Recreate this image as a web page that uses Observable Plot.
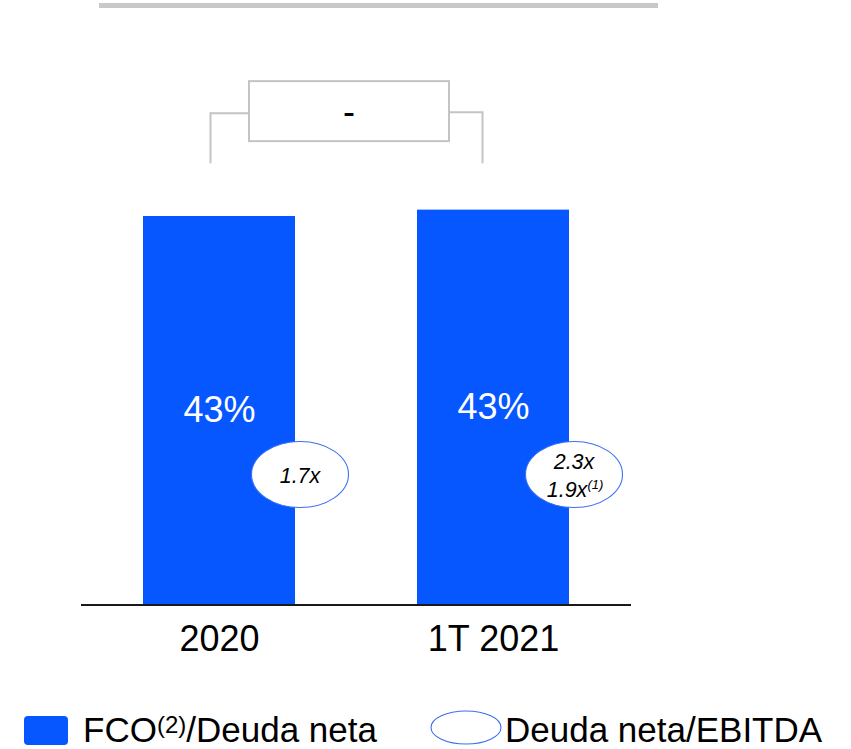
<!DOCTYPE html>
<html>
<head>
<meta charset="utf-8">
<script src="https://cdn.jsdelivr.net/npm/d3@7"></script>
<script src="https://cdn.jsdelivr.net/npm/@observablehq/plot@0.6"></script>
<style>
  html, body { margin: 0; padding: 0; background: #fff; }
  #chart { width: 851px; font-family: "Liberation Sans", Arial, sans-serif; }
  #chart svg { display: block; }
</style>
</head>
<body>
<div id="chart"></div>
<script>
// ---- data ----
const categories = ["2020", "1T 2021"];
const fcoValues = [42.7, 43.4];          // FCO/Deuda neta (%), bar heights
const fcoLabels = ["43%", "43%"];
const ratioLine1 = ["1.7x", "2.3x"];     // Deuda neta/EBITDA
const ratioLine2 = ["", "1.9x"];
const ratioLine2Note = ["", "(1)"];
const changeLabel = "-";
const legendLabels = ["FCO", "(2)", "/Deuda neta", "Deuda neta/EBITDA"];

const BLUE = "#0657ff";
const GRAY = "#c4c4c4";
const FONT = "'Liberation Sans', Arial, sans-serif";

const data = categories.map((c, i) => ({cat: c, value: fcoValues[i], label: fcoLabels[i]}));

const plot = Plot.plot({
  width: 851,
  height: 700,
  marginLeft: 81,
  marginRight: 220,
  marginTop: 58.6,
  marginBottom: 95.5,
  style: {fontFamily: FONT, color: "#000", background: "#fff"},
  x: {domain: categories, paddingInner: 0.4436, paddingOuter: 0.2236, label: null},
  y: {domain: [0, 60], axis: null},
  marks: [
    Plot.barY(data, {x: "cat", y: "value", fill: BLUE}),
    Plot.ruleY([0], {stroke: "#1a1a1a", strokeWidth: 2}),
    Plot.text(data, {x: "cat", y: d => d.value / 2, text: "label", fill: "white", fontSize: 36}),
    Plot.axisX({tickSize: 0, tickPadding: 20, fontSize: 36, fill: "#000", label: null})
  ]
});

document.getElementById("chart").appendChild(plot);

// ---- annotations positioned from the plot's scales ----
const xs = plot.scale("x");
const ys = plot.scale("y");
const bw = xs.bandwidth;
const cx = c => xs.apply(c) + bw / 2;
const yv = v => ys.apply(v);
const svg = d3.select(plot);

// top gray rule (decoration)
svg.append("rect").attr("x", 99).attr("y", 3).attr("width", 559).attr("height", 5).attr("fill", "#c8c8c8");

// change bracket
const c1 = cx(categories[0]), c2 = cx(categories[1]);
const yTop = yv(d3.max(fcoValues));
const mid = (c1 + c2) / 2 - 7;
const g = svg.append("g").attr("fill", "none").attr("stroke", GRAY).attr("stroke-width", 2);
g.append("path").attr("d", `M${c1 - 8.5},${yTop - 46.5}V${yTop - 96.5}H${mid - 100}`);
g.append("path").attr("d", `M${c2 - 10.5},${yTop - 46.5}V${yTop - 97.5}H${mid + 100}`);
g.append("rect").attr("x", mid - 100).attr("y", yTop - 128.5).attr("width", 200).attr("height", 60).attr("fill", "#fff");
svg.append("text").attr("x", mid).attr("y", yTop - 85.5).attr("text-anchor", "middle")
  .attr("font-size", 36).attr("font-family", FONT).attr("fill", "#000").text(changeLabel);

// ratio ellipses
categories.forEach((c, i) => {
  const ex = cx(c) + bw / 2 + 5;
  const ey = yv(0) - 130;
  svg.append("ellipse").attr("cx", ex).attr("cy", ey).attr("rx", 48.5).attr("ry", 33)
    .attr("fill", "#fff").attr("stroke", "#3d6ff2").attr("stroke-width", 1.1);
  const t = svg.append("g").attr("font-family", FONT).attr("font-style", "italic").attr("fill", "#000")
    .attr("text-anchor", "middle").attr("font-size", 21.5);
  if (ratioLine2[i]) {
    t.append("text").attr("x", ex).attr("y", ey - 5.5).text(ratioLine1[i]);
    const l2 = t.append("text").attr("x", ex + 1).attr("y", ey + 22.5);
    l2.append("tspan").text(ratioLine2[i]);
    l2.append("tspan").attr("font-size", 13).attr("dy", -8).text(ratioLine2Note[i]);
  } else {
    t.append("text").attr("x", ex).attr("y", ey + 8.5).text(ratioLine1[i]);
  }
});

// ---- legend (below the plot) ----
const leg = d3.select("#chart").append("svg").attr("width", 851).attr("height", 49)
  .attr("font-family", FONT).style("display", "block");
leg.append("rect").attr("x", 24).attr("y", 16).attr("width", 44).attr("height", 29).attr("rx", 4).attr("fill", BLUE);
const lt = leg.append("text").attr("x", 83).attr("y", 41.5).attr("font-size", 35).attr("fill", "#000");
lt.append("tspan").text(legendLabels[0]);
lt.append("tspan").attr("font-size", 24).attr("dy", -9).text(legendLabels[1]);
lt.append("tspan").attr("dy", 9).text(legendLabels[2]);
leg.append("ellipse").attr("cx", 466).attr("cy", 27.5).attr("rx", 35).attr("ry", 16.5)
  .attr("fill", "#fff").attr("stroke", "#3d6ff2").attr("stroke-width", 1.1);
leg.append("text").attr("x", 505).attr("y", 41.5).attr("font-size", 35).attr("fill", "#000").text(legendLabels[3]);
</script>
</body>
</html>
